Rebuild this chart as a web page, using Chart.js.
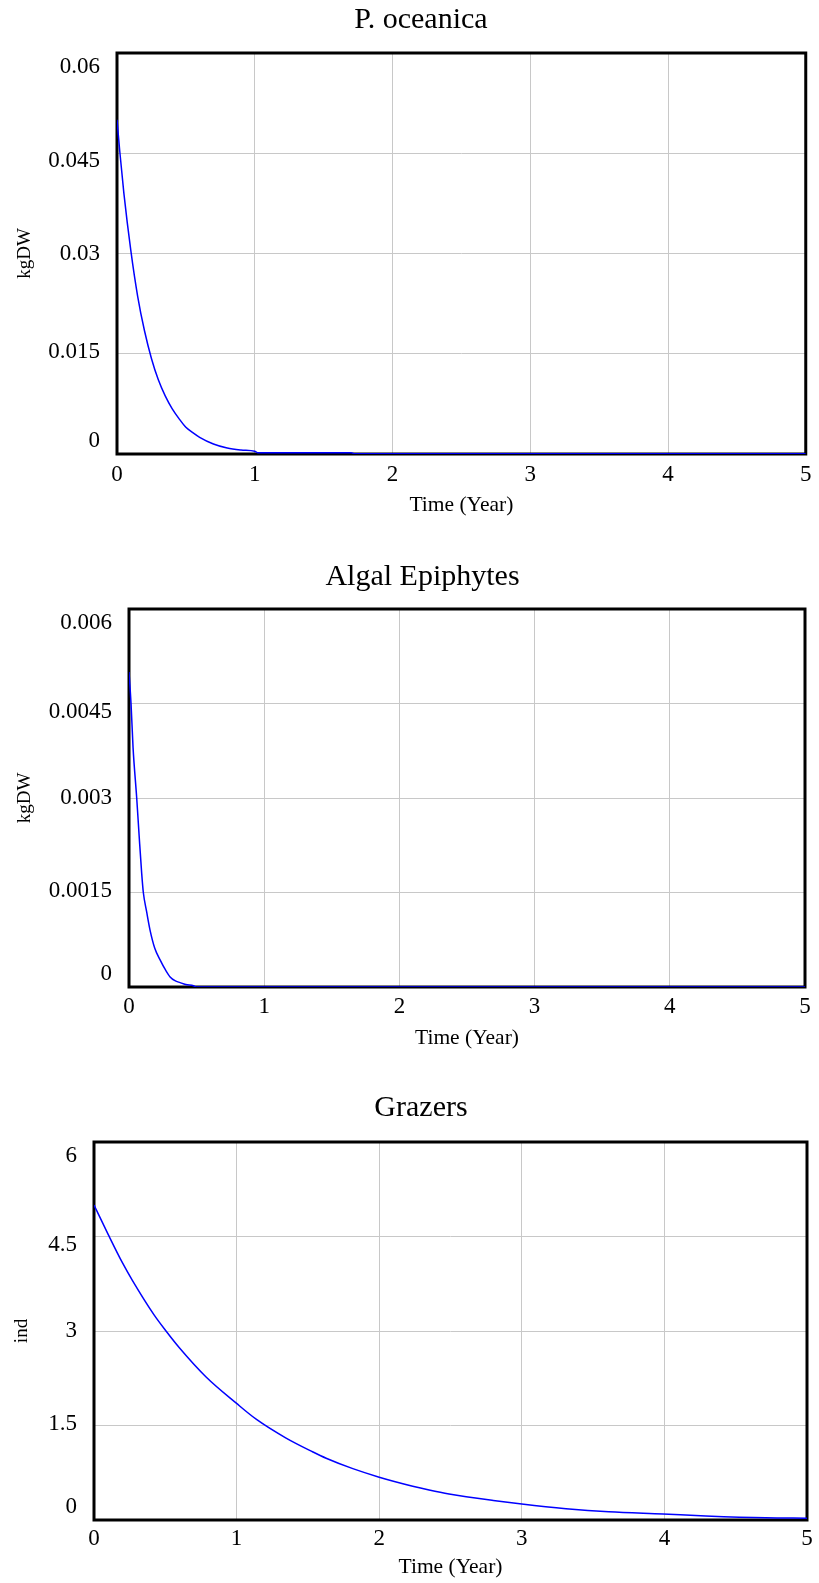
<!DOCTYPE html>
<html>
<head>
<meta charset="utf-8">
<script src="https://cdn.jsdelivr.net/npm/chart.js@4.4.1/dist/chart.umd.min.js"></script>
<style>
    html, body { margin: 0; padding: 0; background: #fff; }
    .box { position: absolute; left: 0; width: 819px; }
</style>
</head>
<body>
<div class="box" style="top:0"><canvas id="pocChart" width="819" height="530"></canvas></div>
<div class="box" style="top:530px"><canvas id="algChart" width="819" height="535"></canvas></div>
<div class="box" style="top:1065px"><canvas id="grzChart" width="819" height="518"></canvas></div>
<script>
var FONT = "'Liberation Serif', 'Times New Roman', serif";

// time axis (Year)
var xTicks = [0, 1, 2, 3, 4, 5];

// P. oceanica (kgDW)
var pocTime = [0, 0.02, 0.05, 0.1, 0.15, 0.2, 0.25, 0.3, 0.35, 0.4, 0.45, 0.5, 0.55, 0.6, 0.7, 0.8, 0.9, 1.0, 1.02, 1.7, 1.72, 5];
var pocValue = [0.050, 0.0453, 0.039, 0.0305, 0.0236, 0.0184, 0.0143, 0.0111, 0.0087, 0.0068, 0.0053, 0.0040, 0.0032, 0.0025, 0.0015, 0.0009, 0.0006, 0.0004, 0.0002, 0.0002, 0.00005, 0.00005];
var pocTicks = [0, 0.015, 0.03, 0.045, 0.06];

// Algal Epiphytes (kgDW)
var algTime = [0, 0.015, 0.03, 0.057, 0.075, 0.094, 0.106, 0.13, 0.156, 0.19, 0.23, 0.27, 0.304, 0.34, 0.378, 0.42, 0.477, 0.5, 5];
var algValue = [0.0050, 0.0045, 0.0038, 0.0030, 0.0024, 0.0018, 0.0015, 0.0012, 0.0009, 0.00062, 0.00043, 0.00027, 0.00016, 0.0001, 0.00007, 0.00004, 0.00002, 0, 0];
var algTicks = [0, 0.0015, 0.003, 0.0045, 0.006];

// Grazers (ind)
var grzTime = [0, 0.1, 0.2, 0.27, 0.42, 0.505, 0.6, 0.786, 1.0, 1.137, 1.347, 1.535, 1.628, 1.815, 2.0, 2.235, 2.35, 2.49, 2.8, 3.0, 3.31, 3.61, 3.99, 4.29, 4.71, 5];
var grzValue = [5.0, 4.53, 4.08, 3.80, 3.26, 3.00, 2.73, 2.27, 1.85, 1.60, 1.30, 1.08, 0.98, 0.815, 0.68, 0.537, 0.477, 0.414, 0.31, 0.253, 0.18, 0.13, 0.095, 0.065, 0.035, 0.028];
var grzTicks = [0, 1.5, 3, 4.5, 6];

// vertical nudge of the y labels, bottom tick first (labels sit inside the frame)
var yLabelShift = [-13, -2, 0, 8, 14];

// black frame round the plot + y labels
var framePlugin = {
    id: "frame",
    beforeDatasetsDraw: function (chart) {
        var a = chart.chartArea, ctx = chart.ctx;
        ctx.save();
        ctx.lineWidth = 3;
        ctx.strokeStyle = "#000";
        ctx.strokeRect(a.left, a.top, a.right - a.left, a.bottom - a.top);
        ctx.restore();
    },
    afterDraw: function (chart) {
        var a = chart.chartArea, ctx = chart.ctx, s = chart.scales.y;
        ctx.save();
        ctx.font = "23px " + FONT;
        ctx.fillStyle = "#000";
        ctx.textAlign = "right";
        ctx.textBaseline = "middle";
        s.ticks.forEach(function (t, i) {
            var y = s.getPixelForValue(t.value) + (yLabelShift[i] || 0);
            ctx.fillText(String(t.value), a.left - 17, y);
        });
        ctx.restore();
    }
};

function drawChart(id, title, yTitle, times, values, yTicks, g) {
    var ctx = document.getElementById(id).getContext("2d");
    new Chart(ctx, {
        type: "line",
        data: {
            datasets: [{
                data: times.map(function (t, i) { return { x: t, y: values[i] }; }),
                borderColor: "#0000ff",
                borderWidth: 1.5,
                pointRadius: 0,
                cubicInterpolationMode: "monotone",
                fill: false
            }]
        },
        options: {
            responsive: false,
            animation: false,
            layout: { padding: { left: g.padLeft, right: g.padRight, top: 0, bottom: 0 } },
            plugins: {
                legend: { display: false },
                tooltip: { enabled: false },
                title: {
                    display: true,
                    text: title,
                    color: "#000",
                    font: { family: FONT, size: 30, weight: "normal" },
                    padding: { top: g.titleTop, bottom: g.titleBottom }
                }
            },
            scales: {
                x: {
                    type: "linear",
                    min: 0,
                    max: 5,
                    afterBuildTicks: function (s) { s.ticks = xTicks.map(function (v) { return { value: v }; }); },
                    afterFit: function (s) { s.height = g.xHeight; },
                    grid: { color: "#c8c8c8", lineWidth: 1, drawTicks: false },
                    border: { display: false },
                    ticks: { color: "#000", font: { family: FONT, size: 23 }, padding: g.xTickPad, maxRotation: 0, autoSkip: false },
                    title: {
                        display: true,
                        text: "Time (Year)",
                        color: "#000",
                        font: { family: FONT, size: 21.5 },
                        padding: { top: 0, bottom: g.xTitlePad }
                    }
                },
                y: {
                    min: yTicks[0],
                    max: yTicks[yTicks.length - 1],
                    afterBuildTicks: function (s) { s.ticks = yTicks.map(function (v) { return { value: v }; }); },
                    afterFit: function (s) { s.width = g.yWidth; },
                    grid: { color: "#c8c8c8", lineWidth: 1, drawTicks: false },
                    border: { display: false },
                    ticks: { display: false },
                    title: {
                        display: true,
                        text: yTitle,
                        color: "#000",
                        font: { family: FONT, size: 19 },
                        padding: { top: g.yTitlePad, bottom: 0 }
                    }
                }
            }
        },
        plugins: [framePlugin]
    });
}

drawChart("pocChart", "P. oceanica", "kgDW", pocTime, pocValue, pocTicks,
    { padLeft: 35, padRight: 12, yWidth: 82, yTitlePad: -21.4, titleTop: 2, titleBottom: 15, xHeight: 76, xTickPad: 7.5, xTitlePad: 12 });
drawChart("algChart", "Algal Epiphytes", "kgDW", algTime, algValue, algTicks,
    { padLeft: 40, padRight: 14, yWidth: 89, yTitlePad: -26.4, titleTop: 29, titleBottom: 14, xHeight: 78, xTickPad: 6.5, xTitlePad: 14 });
drawChart("grzChart", "Grazers", "ind", grzTime, grzValue, grzTicks,
    { padLeft: 35, padRight: 12, yWidth: 59, yTitlePad: -24.4, titleTop: 25, titleBottom: 16, xHeight: 63, xTickPad: 5.5, xTitlePad: 3 });
</script>
</body>
</html>
